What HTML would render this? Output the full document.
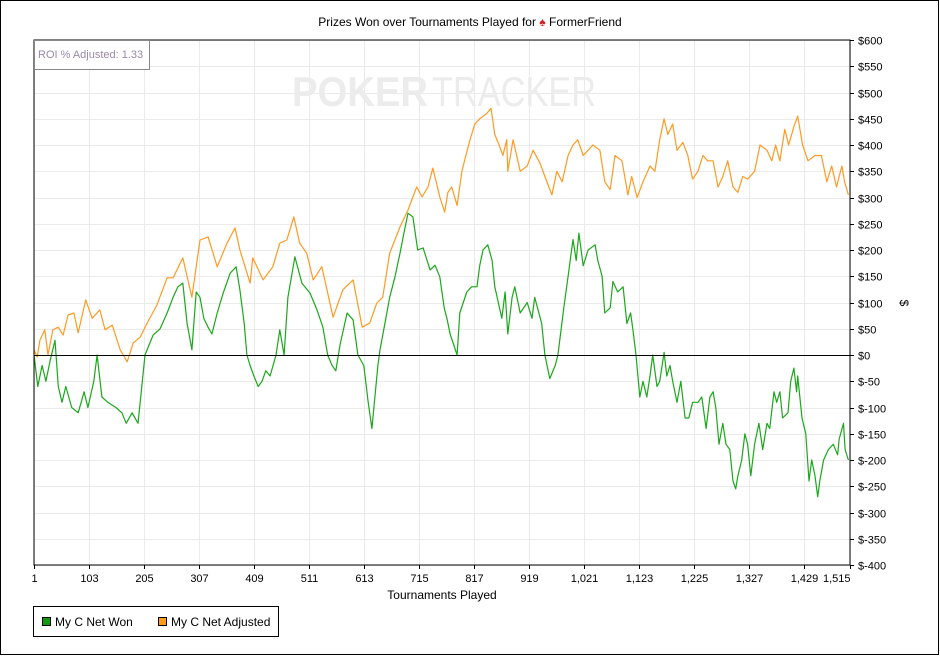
<!DOCTYPE html>
<html><head><meta charset="utf-8"><style>
html,body{margin:0;padding:0;background:#fff;}
svg{display:block;font-family:"Liberation Sans",sans-serif;}
</style></head><body>
<svg id="chart" width="940" height="656" viewBox="0 0 940 656">
<rect x="0.5" y="0.5" width="938" height="654" fill="#fff" stroke="#000"/>
<text x="470" y="26" font-size="12" text-anchor="middle">Prizes Won over Tournaments Played for <tspan fill="#d42020">♠</tspan> FormerFriend</text>
<g id="grid"></g>
<g font-size="42" fill="#ececec">
<text x="292" y="106" font-weight="bold" textLength="136" lengthAdjust="spacingAndGlyphs">POKER</text>
<text x="432" y="106" textLength="164" lengthAdjust="spacingAndGlyphs">TRACKER</text>
</g>
<g id="series"></g>
<rect x="34" y="40" width="816" height="525" fill="none" stroke="#000"/>
<g id="axes"></g>
<rect x="34.5" y="40.5" width="115" height="29" fill="#fff" stroke="#888"/>
<text x="38" y="58" font-size="11" fill="#9a8aa8">ROI % Adjusted: 1.33</text>
<text x="442" y="599" font-size="12" text-anchor="middle">Tournaments Played</text>
<text x="0" y="0" font-size="12" text-anchor="middle" transform="translate(900,303) rotate(90)">$</text>
<g>
<rect x="33.5" y="606.5" width="245" height="30" fill="#fff" stroke="#000"/>
<rect x="42.5" y="617.5" width="8" height="8" fill="#119911" stroke="#000"/>
<text x="55" y="626" font-size="12">My C Net Won</text>
<rect x="158.5" y="617.5" width="8" height="8" fill="#ff9a1a" stroke="#000"/>
<text x="171" y="626" font-size="12">My C Net Adjusted</text>
</g>
</svg>
<script>
const xTicks=[1,103,205,307,409,511,613,715,817,919,1021,1123,1225,1327,1429,1515];
const yTicks=[600,550,500,450,400,350,300,250,200,150,100,50,0,-50,-100,-150,-200,-250,-300,-350,-400];
const wonT=[1,8,16,23,31,40,46,53,60,71,83,94,101,112,118,127,138,153,164,172,183,194,201,207,222,235,248,259,268,277,285,294,302,309,316,324,331,341,352,365,376,383,391,396,402,409,417,424,431,439,450,457,465,472,485,498,513,526,537,546,554,561,569,582,593,602,613,621,628,639,643,652,661,671,680,687,695,704,713,723,736,745,754,762,767,773,786,791,804,813,823,828,834,843,851,856,869,875,880,888,893,903,916,925,930,943,949,958,968,973,984,992,1001,1007,1012,1020,1029,1042,1047,1055,1060,1070,1075,1084,1094,1101,1108,1112,1118,1125,1131,1138,1144,1149,1157,1162,1170,1175,1181,1186,1194,1201,1209,1216,1223,1233,1240,1248,1255,1261,1266,1272,1279,1285,1292,1298,1303,1307,1314,1320,1325,1331,1338,1346,1353,1361,1366,1374,1379,1385,1390,1400,1405,1411,1416,1418,1426,1433,1439,1444,1450,1455,1459,1466,1475,1484,1492,1495,1503,1506,1512];
const wonV=[0,-60,-20,-50,-10,28,-60,-90,-60,-100,-110,-70,-100,-50,0,-80,-90,-100,-110,-130,-110,-130,-60,0,38,50,80,110,130,137,60,10,120,110,70,53,40,80,118,156,168,124,60,0,-20,-40,-60,-50,-30,-40,0,48,0,110,187,137,118,86,53,0,-20,-30,20,80,67,0,-20,-90,-140,-20,10,60,110,150,194,230,270,263,200,204,162,171,149,90,70,40,0,80,120,130,130,170,200,210,180,130,70,120,40,110,130,80,100,70,110,60,0,-45,-20,0,90,150,220,180,232,170,200,210,180,150,80,90,140,120,130,60,80,50,0,-80,-50,-80,-40,0,-60,-50,5,-40,-20,-50,-90,-50,-120,-120,-90,-90,-80,-140,-80,-70,-100,-170,-130,-170,-180,-240,-255,-230,-200,-150,-170,-230,-170,-130,-180,-130,-140,-70,-90,-70,-120,-110,-50,-25,-70,-40,-120,-150,-240,-200,-230,-270,-240,-200,-180,-170,-190,-160,-130,-180,-200];
const adjT=[1,7,12,21,27,36,46,55,64,75,83,97,109,123,133,146,161,174,185,198,211,229,248,259,277,294,309,324,341,359,374,383,402,407,426,444,457,470,483,494,507,519,535,556,574,593,610,624,637,648,661,680,695,704,711,721,732,741,754,763,769,776,786,795,801,810,819,828,841,849,856,864,871,878,880,890,903,916,927,940,949,962,971,981,992,1001,1010,1020,1029,1038,1051,1060,1070,1079,1092,1103,1110,1120,1131,1144,1153,1162,1170,1177,1186,1194,1205,1214,1223,1233,1242,1251,1261,1270,1279,1288,1298,1307,1316,1325,1338,1348,1361,1370,1377,1385,1394,1401,1411,1418,1427,1437,1450,1462,1472,1481,1490,1500,1505,1512];
const adjV=[10,-4,28,48,0,48,53,38,76,80,42,105,70,86,48,57,10,-13,23,34,61,95,147,147,185,110,219,225,168,213,242,200,137,185,143,168,213,219,263,213,194,143,168,72,124,143,53,61,99,110,194,244,276,301,320,301,320,356,301,272,310,320,285,350,375,410,440,450,460,470,420,400,380,410,350,410,350,360,390,365,340,305,350,330,380,400,410,380,390,400,390,330,315,380,370,305,340,300,330,360,350,410,450,420,440,390,405,380,335,350,380,370,370,320,340,370,320,310,340,335,350,400,390,370,400,370,430,400,435,455,400,370,380,380,330,360,320,360,330,305];
const NS='http://www.w3.org/2000/svg';
const L=34,R=850,T=40,B=565;
const xs=t=>L+(t-1)*(R-L)/1514;
const ys=v=>T+(600-v)*(B-T)/1000;
const grid=document.getElementById('grid'),axes=document.getElementById('axes'),series=document.getElementById('series');
function mk(tag,attrs,parent){const e=document.createElementNS(NS,tag);for(const k in attrs)e.setAttribute(k,attrs[k]);parent.appendChild(e);return e;}
xTicks.forEach(t=>{const x=Math.round(xs(t))+0.5;
 const g=mk('line',{x1:x,x2:x,y1:T,y2:B,stroke:'#ebebeb'},grid);
 
 
 const tk=mk('line',{x1:x,x2:x,y1:B,y2:B+4,stroke:'#000'},axes);
 
 
 const lb=mk('text',{x:x,y:B+17,'font-size':11,'text-anchor':t===1?'start':(t===1515?'end':'middle')},axes);
 if(t===1)lb.setAttribute('x',x-3);
 lb.textContent=t.toLocaleString('en-US');
 
 
});
yTicks.forEach(v=>{const y=Math.round(ys(v))+0.5;
 const g=mk('line',{x1:L,x2:R,y1:y,y2:y,stroke:v===0?'#000':'#ebebeb'},v===0?axes:grid);
 
 
 const tk=mk('line',{x1:R,x2:R+4,y1:y,y2:y,stroke:'#000'},axes);
 
 
 const lb=mk('text',{x:R+8,y:y+4,'font-size':11},axes);
 lb.textContent=v<0?'$-'+(-v):'$'+v;
 
 
});
function line(T_,V_,color,name){const d=T_.map((t,i)=>(i?'L':'M')+xs(t).toFixed(1)+','+ys(V_[i]).toFixed(1)).join('');
 const p=mk('path',{d:d,fill:'none',stroke:color,'stroke-width':1.2,'stroke-linejoin':'round'},series);
 
 }
line(wonT,wonV,'#1aa81a','net-won-line');
line(adjT,adjV,'#ff9a22','net-adjusted-line');
</script>
</body></html>
